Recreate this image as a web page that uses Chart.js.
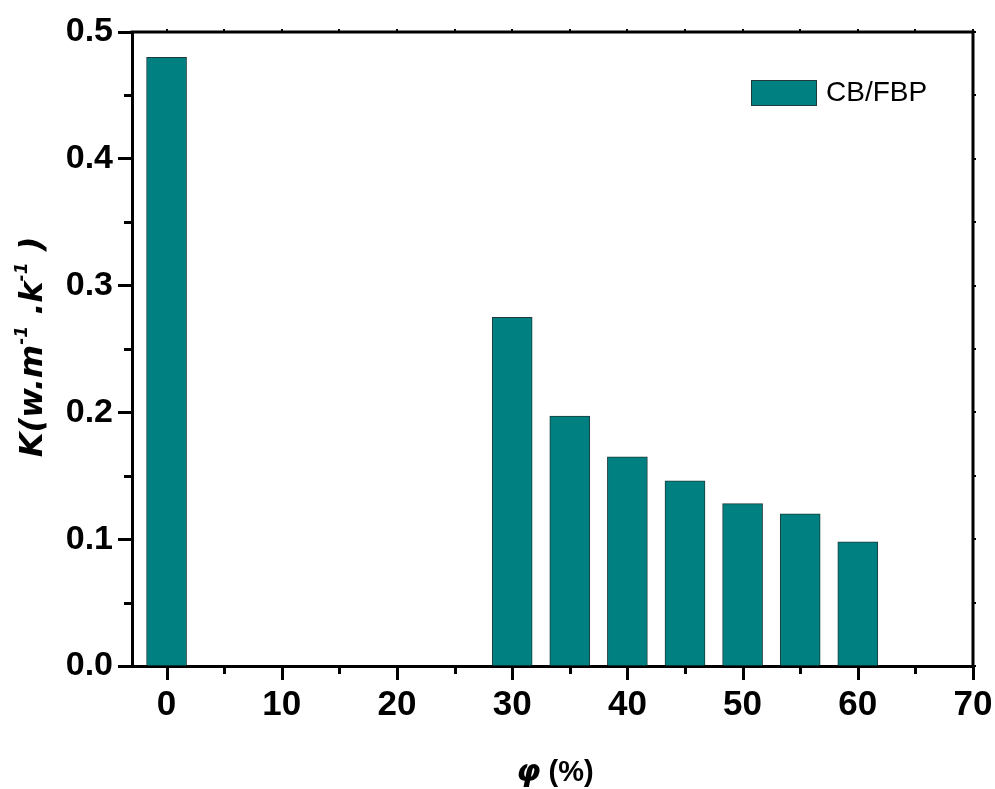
<!DOCTYPE html>
<html>
<head>
<meta charset="utf-8">
<script src="https://cdn.jsdelivr.net/npm/chart.js@4"></script>
<style>
  html, body { margin: 0; padding: 0; background: #ffffff; }
  #wrap { width: 995px; height: 789px; }
</style>
</head>
<body>
<div id="wrap"><canvas id="c" width="995" height="789"></canvas></div>
<script>
// Filler volume fraction (%) and thermal conductivity K (W·m⁻¹·K⁻¹)
const fractions    = [0, 30, 35, 40, 45, 50, 55, 60];
const conductivity = [0.48, 0.275, 0.197, 0.165, 0.146, 0.128, 0.120, 0.098];
const seriesLabel  = 'CB/FBP';

// Axis ticks
const xTicks      = [0, 10, 20, 30, 40, 50, 60, 70];
const xMinorTicks = [5, 15, 25, 35, 45, 55, 65];
const yTicks      = [0, 0.1, 0.2, 0.3, 0.4, 0.5];
const yMinorTicks = [0.05, 0.15, 0.25, 0.35, 0.45];

const BAR_COLOR = '#008080';
const INK = '#000000';
const MAJOR_LEN = 14;
const MINOR_LEN = 8;

// Frame, bottom-axis ticks, left minor ticks, in-plot legend and rich axis titles
const decorations = {
  id: 'decorations',
  afterDraw(chart) {
    const ctx = chart.ctx;
    const a = chart.chartArea;
    const xs = chart.scales.x, ys = chart.scales.y;
    ctx.save();
    ctx.strokeStyle = INK;
    ctx.lineWidth = 3;
    ctx.lineCap = 'butt';

    // top and right frame lines
    ctx.beginPath();
    ctx.moveTo(a.left - 1.5, a.top);
    ctx.lineTo(a.right, a.top);
    ctx.lineTo(a.right, a.bottom + 1.5);
    ctx.stroke();

    ctx.beginPath();
    // major ticks on bottom axis
    xTicks.forEach(v => {
      const px = Math.round(xs.getPixelForValue(v)) + 0.5;
      ctx.moveTo(px, a.bottom);
      ctx.lineTo(px, a.bottom + MAJOR_LEN);
    });
    // minor ticks on bottom axis
    xMinorTicks.forEach(v => {
      const px = Math.round(xs.getPixelForValue(v)) + 0.5;
      ctx.moveTo(px, a.bottom);
      ctx.lineTo(px, a.bottom + MINOR_LEN);
    });
    // minor ticks on left axis
    yMinorTicks.forEach(v => {
      const py = Math.round(ys.getPixelForValue(v)) + 0.5;
      ctx.moveTo(a.left, py);
      ctx.lineTo(a.left - MINOR_LEN, py);
    });
    ctx.stroke();

    // short marks on top and right frame lines
    ctx.lineWidth = 2;
    ctx.beginPath();
    xTicks.concat(xMinorTicks).forEach(v => {
      const px = Math.round(xs.getPixelForValue(v));
      ctx.moveTo(px, a.top);
      ctx.lineTo(px, a.top - 3);
    });
    yTicks.concat(yMinorTicks).forEach(v => {
      const py = Math.round(ys.getPixelForValue(v));
      ctx.moveTo(a.right, py);
      ctx.lineTo(a.right + 3, py);
    });
    ctx.stroke();

    // legend
    const ds = chart.data.datasets[0];
    ctx.fillStyle = ds.backgroundColor;
    ctx.fillRect(751, 80, 66, 26);
    ctx.lineWidth = 1;
    ctx.strokeStyle = '#1d3b3b';
    ctx.strokeRect(751.5, 80.5, 65, 25);
    ctx.fillStyle = INK;
    ctx.font = '28px "Liberation Sans", Arial, sans-serif';
    ctx.textBaseline = 'middle';
    ctx.textAlign = 'left';
    ctx.fillText(ds.label, 826, 93);

    // y-axis title: K(w.m^-1.k^-1)
    ctx.save();
    ctx.translate(34, 347);
    ctx.rotate(-Math.PI / 2);
    const big = 'italic bold 32px "DejaVu Sans", sans-serif';
    const small = 'italic bold 17px "DejaVu Sans", sans-serif';
    const parts = [['K(w.m', 0], ['-1', 1], [' .k', 0], ['-1', 1], [' )', 0]];
    let total = 0;
    parts.forEach(p => { ctx.font = p[1] ? small : big; total += ctx.measureText(p[0]).width; });
    let x = -total / 2;
    ctx.textAlign = 'left';
    ctx.textBaseline = 'middle';
    parts.forEach(p => {
      ctx.font = p[1] ? small : big;
      ctx.fillText(p[0], x, p[1] ? -11 : 0);
      x += ctx.measureText(p[0]).width;
    });
    ctx.restore();

    // x-axis title: φ (%)
    const f1 = 'italic bold 31px "DejaVu Sans", sans-serif';
    const f2 = 'bold 29px "Liberation Sans", Arial, sans-serif';
    ctx.font = f1; const w1 = ctx.measureText('\u03C6').width;
    ctx.font = f2; const w2 = ctx.measureText(' (%)').width;
    let sx = 555 - (w1 + w2) / 2;
    ctx.textBaseline = 'middle';
    ctx.font = f1; ctx.fillText('\u03C6', sx, 773);
    ctx.font = f2; ctx.fillText(' (%)', sx + w1, 773);

    ctx.restore();
  }
};

new Chart(document.getElementById('c'), {
  type: 'bar',
  data: {
    datasets: [{
      label: seriesLabel,
      data: fractions.map((f, i) => ({ x: f, y: conductivity[i] })),
      backgroundColor: BAR_COLOR,
      borderColor: '#1d3b3b',
      borderWidth: 1,
      borderSkipped: 'bottom',
      barThickness: 40
    }]
  },
  options: {
    responsive: false,
    animation: false,
    devicePixelRatio: 1,
    layout: { padding: { left: 0, top: 32, right: 22, bottom: 0 } },
    plugins: {
      legend: { display: false },
      tooltip: { enabled: false },
      title: { display: false }
    },
    scales: {
      x: {
        type: 'linear',
        min: -3,
        max: 70,
        offset: false,
        afterBuildTicks: s => { s.ticks = xTicks.map(v => ({ value: v })); },
        afterFit: s => { s.height = 123; s.paddingRight = 0; s.paddingLeft = 0; },
        grid: { offset: false, drawOnChartArea: false, drawTicks: true, tickLength: MAJOR_LEN, tickColor: 'rgba(0,0,0,0)' },
        border: { display: true, color: INK, width: 3 },
        ticks: {
          color: INK,
          padding: 4,
          maxRotation: 0,
          font: { family: '"Liberation Sans", Arial, sans-serif', size: 35, weight: 'bold' },
          callback: v => String(v)
        }
      },
      y: {
        type: 'linear',
        min: 0,
        max: 0.5,
        afterBuildTicks: s => { s.ticks = yTicks.map(v => ({ value: v })); },
        afterFit: s => { s.width = 132; },
        grid: { drawOnChartArea: false, drawTicks: true, tickLength: MAJOR_LEN, tickWidth: 3, tickColor: INK },
        border: { display: true, color: INK, width: 3 },
        ticks: {
          color: INK,
          padding: 5,
          font: { family: '"Liberation Sans", Arial, sans-serif', size: 34, weight: 'bold' },
          callback: v => Number(v).toFixed(1)
        }
      }
    }
  },
  plugins: [decorations]
});
</script>
</body>
</html>
